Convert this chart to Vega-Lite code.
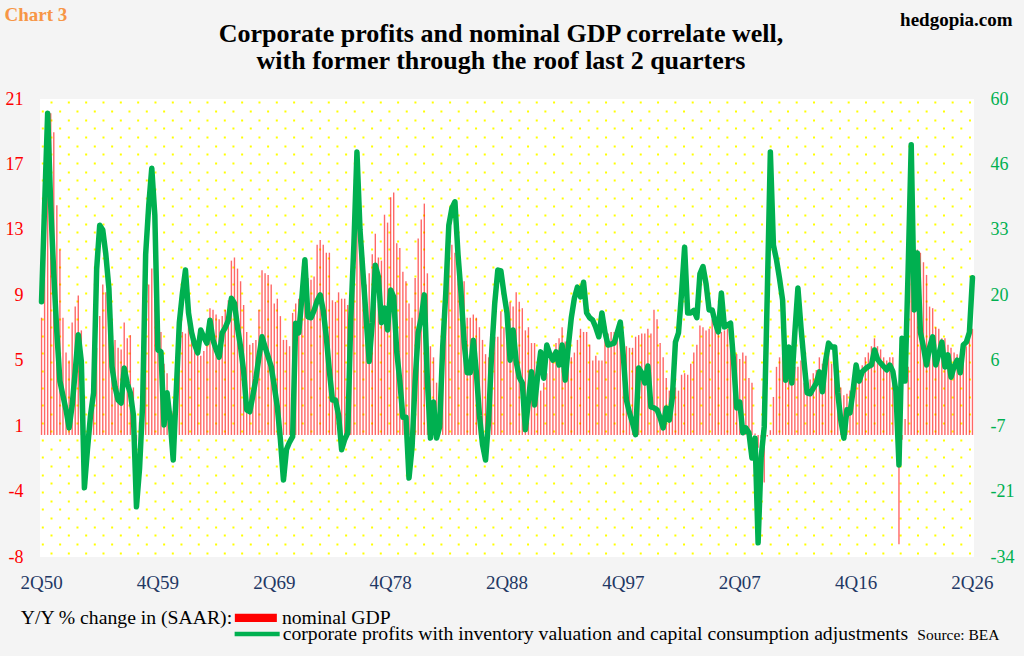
{
  "$schema": "https://vega.github.io/schema/vega-lite/v6.json",
  "width": 934,
  "height": 458,
  "autosize": {"type": "none"},
  "padding": {"left": 40, "top": 99, "right": 50, "bottom": 99},
  "background": "#F4F4F4",
  "title": {
    "text": ["Corporate profits and nominal GDP correlate well,", "with former through the roof last 2 quarters"],
    "font": "Liberation Serif",
    "fontSize": 26,
    "fontWeight": "bold",
    "color": "black",
    "lineHeight": 27,
    "anchor": "middle",
    "dx": -6,
    "offset": -69
  },
  "data": {
    "values": [
      {"q":"2Q50","gdp":7.4,"cp":18.3},{"q":"3Q50","gdp":11.5,"cp":38},{"q":"4Q50","gdp":16,"cp":57},
      {"q":"1Q51","gdp":20.3,"cp":38},{"q":"2Q51","gdp":19.1,"cp":24},{"q":"3Q51","gdp":14.5,"cp":12},{"q":"4Q51","gdp":11.7,"cp":2},
      {"q":"1Q52","gdp":7.4,"cp":-1},{"q":"2Q52","gdp":5.2,"cp":-3.9},{"q":"3Q52","gdp":4.7,"cp":-7.6},{"q":"4Q52","gdp":7.1,"cp":-3},
      {"q":"1Q53","gdp":8.1,"cp":4},{"q":"2Q53","gdp":8.8,"cp":11.5},{"q":"3Q53","gdp":6.6,"cp":6},{"q":"4Q53","gdp":2.5,"cp":-19.9},
      {"q":"1Q54","gdp":-0.6,"cp":-12},{"q":"2Q54","gdp":0.5,"cp":-5},{"q":"3Q54","gdp":3.5,"cp":-0.4},{"q":"4Q54","gdp":5.5,"cp":25},
      {"q":"1Q55","gdp":7.5,"cp":34},{"q":"2Q55","gdp":9.5,"cp":33},{"q":"3Q55","gdp":9,"cp":28},{"q":"4Q55","gdp":8.5,"cp":21},
      {"q":"1Q56","gdp":7,"cp":5},{"q":"2Q56","gdp":6,"cp":0.8},{"q":"3Q56","gdp":5.5,"cp":-1.9},{"q":"4Q56","gdp":5.4,"cp":-2.5},
      {"q":"1Q57","gdp":7.1,"cp":4.7},{"q":"2Q57","gdp":6.1,"cp":1.5},{"q":"3Q57","gdp":6.3,"cp":-0.4},{"q":"4Q57","gdp":3,"cp":-5},
      {"q":"1Q58","gdp":-0.4,"cp":-23.8},{"q":"2Q58","gdp":0.8,"cp":-16},{"q":"3Q58","gdp":3.5,"cp":-3},{"q":"4Q58","gdp":7,"cp":28},
      {"q":"1Q59","gdp":9.5,"cp":38},{"q":"2Q59","gdp":10.5,"cp":45.7},{"q":"3Q59","gdp":8.5,"cp":36},{"q":"4Q59","gdp":7.5,"cp":8.4},
      {"q":"1Q60","gdp":6.5,"cp":8},{"q":"2Q60","gdp":4.5,"cp":-7},{"q":"3Q60","gdp":3.9,"cp":-0.4},{"q":"4Q60","gdp":2,"cp":-6},
      {"q":"1Q61","gdp":1.5,"cp":-14.2},{"q":"2Q61","gdp":3.5,"cp":0},{"q":"3Q61","gdp":5.5,"cp":14},{"q":"4Q61","gdp":6.5,"cp":20},
      {"q":"1Q62","gdp":6.4,"cp":24.8},{"q":"2Q62","gdp":8,"cp":16},{"q":"3Q62","gdp":7,"cp":12},{"q":"4Q62","gdp":6,"cp":9.5},
      {"q":"1Q63","gdp":5.5,"cp":7.8},{"q":"2Q63","gdp":5,"cp":12.5},{"q":"3Q63","gdp":5.3,"cp":11},{"q":"4Q63","gdp":6,"cp":9.8},
      {"q":"1Q64","gdp":8,"cp":14.5},{"q":"2Q64","gdp":7.9,"cp":10.4},{"q":"3Q64","gdp":7.6,"cp":8.5},{"q":"4Q64","gdp":7.3,"cp":6.9},
      {"q":"1Q65","gdp":7.5,"cp":11.9},{"q":"2Q65","gdp":7.9,"cp":13},{"q":"3Q65","gdp":8.5,"cp":14.5},{"q":"4Q65","gdp":11,"cp":19},
      {"q":"1Q66","gdp":11.2,"cp":18},{"q":"2Q66","gdp":10.5,"cp":13},{"q":"3Q66","gdp":9.7,"cp":9},{"q":"4Q66","gdp":8.2,"cp":4},
      {"q":"1Q67","gdp":6.5,"cp":-3.9},{"q":"2Q67","gdp":5.7,"cp":-4.3},{"q":"3Q67","gdp":5.8,"cp":-1},{"q":"4Q67","gdp":6,"cp":2.5},
      {"q":"1Q68","gdp":7.9,"cp":7},{"q":"2Q68","gdp":10.4,"cp":11.1},{"q":"3Q68","gdp":10.2,"cp":9},{"q":"4Q68","gdp":10.1,"cp":7},
      {"q":"1Q69","gdp":9.5,"cp":5},{"q":"2Q69","gdp":8.3,"cp":1},{"q":"3Q69","gdp":8.6,"cp":-3.3},{"q":"4Q69","gdp":7.5,"cp":-10},
      {"q":"1Q70","gdp":6,"cp":-18.3},{"q":"2Q70","gdp":6,"cp":-12},{"q":"3Q70","gdp":5.6,"cp":-10.5},{"q":"4Q70","gdp":7.7,"cp":-9.4},
      {"q":"1Q71","gdp":8.3,"cp":13.9},{"q":"2Q71","gdp":8.6,"cp":11.9},{"q":"3Q71","gdp":9.6,"cp":19},{"q":"4Q71","gdp":9.9,"cp":26.9},
      {"q":"1Q72","gdp":9.9,"cp":15.2},{"q":"2Q72","gdp":9.8,"cp":15},{"q":"3Q72","gdp":10,"cp":16.5},{"q":"4Q72","gdp":12,"cp":18.5},
      {"q":"1Q73","gdp":12.3,"cp":19.7},{"q":"2Q73","gdp":12,"cp":16.5},{"q":"3Q73","gdp":11.5,"cp":11},{"q":"4Q73","gdp":11.5,"cp":4},
      {"q":"1Q74","gdp":8.5,"cp":-1.9},{"q":"2Q74","gdp":8.4,"cp":-1.9},{"q":"3Q74","gdp":9,"cp":-5},{"q":"4Q74","gdp":8.6,"cp":-12.1},
      {"q":"1Q75","gdp":8.6,"cp":-10},{"q":"2Q75","gdp":8.2,"cp":-8.6},{"q":"3Q75","gdp":9.5,"cp":15},{"q":"4Q75","gdp":10,"cp":30},
      {"q":"1Q76","gdp":13,"cp":49},{"q":"2Q76","gdp":12.5,"cp":33},{"q":"3Q76","gdp":9.8,"cp":24},{"q":"4Q76","gdp":9.5,"cp":15},
      {"q":"1Q77","gdp":10.2,"cp":6},{"q":"2Q77","gdp":11.4,"cp":14},{"q":"3Q77","gdp":12.7,"cp":25.8},{"q":"4Q77","gdp":11.2,"cp":23.4},
      {"q":"1Q78","gdp":11,"cp":14},{"q":"2Q78","gdp":13.9,"cp":17},{"q":"3Q78","gdp":13.4,"cp":12.5},{"q":"4Q78","gdp":15,"cp":20.7},
      {"q":"1Q79","gdp":15.3,"cp":19.3},{"q":"2Q79","gdp":12.1,"cp":8},{"q":"3Q79","gdp":11.8,"cp":2},{"q":"4Q79","gdp":10.3,"cp":-5.4},
      {"q":"1Q80","gdp":9.7,"cp":-5.4},{"q":"2Q80","gdp":8.3,"cp":-17.9},{"q":"3Q80","gdp":7.4,"cp":-11.5},{"q":"4Q80","gdp":9.9,"cp":2},
      {"q":"1Q81","gdp":12.4,"cp":12},{"q":"2Q81","gdp":13.6,"cp":15},{"q":"3Q81","gdp":14.6,"cp":19.7},{"q":"4Q81","gdp":10.2,"cp":2.2},
      {"q":"1Q82","gdp":5.6,"cp":-9.7},{"q":"2Q82","gdp":4.9,"cp":-2.3},{"q":"3Q82","gdp":3.3,"cp":-9.7},{"q":"4Q82","gdp":2.5,"cp":-7.4},
      {"q":"1Q83","gdp":6,"cp":9},{"q":"2Q83","gdp":8.5,"cp":20},{"q":"3Q83","gdp":11,"cp":34},{"q":"4Q83","gdp":12,"cp":37.5},
      {"q":"1Q84","gdp":11.5,"cp":38.8},{"q":"2Q84","gdp":10.2,"cp":28},{"q":"3Q84","gdp":10.1,"cp":20},{"q":"4Q84","gdp":9.7,"cp":10},
      {"q":"1Q85","gdp":7.4,"cp":3.7},{"q":"2Q85","gdp":7.4,"cp":3.7},{"q":"3Q85","gdp":7.6,"cp":10.4},{"q":"4Q85","gdp":7.4,"cp":3.7},
      {"q":"1Q86","gdp":6.8,"cp":-5},{"q":"2Q86","gdp":6,"cp":-11},{"q":"3Q86","gdp":5.1,"cp":-14.2},{"q":"4Q86","gdp":4.9,"cp":-6},
      {"q":"1Q87","gdp":6.2,"cp":8},{"q":"2Q87","gdp":6.2,"cp":18},{"q":"3Q87","gdp":6.2,"cp":24.8},{"q":"4Q87","gdp":7.8,"cp":24.6},
      {"q":"1Q88","gdp":6.8,"cp":20},{"q":"2Q88","gdp":8.1,"cp":16},{"q":"3Q88","gdp":8.4,"cp":6.3},{"q":"4Q88","gdp":8.1,"cp":12.5},
      {"q":"1Q89","gdp":9,"cp":6},{"q":"2Q89","gdp":8.4,"cp":2.8},{"q":"3Q89","gdp":8,"cp":1.6},{"q":"4Q89","gdp":6.6,"cp":-8},
      {"q":"1Q90","gdp":6.8,"cp":-2},{"q":"2Q90","gdp":5.8,"cp":3.9},{"q":"3Q90","gdp":5.8,"cp":-2.9},{"q":"4Q90","gdp":2.8,"cp":3},
      {"q":"1Q91","gdp":2.8,"cp":8},{"q":"2Q91","gdp":3.3,"cp":2.6},{"q":"3Q91","gdp":3.9,"cp":9.4},{"q":"4Q91","gdp":5.2,"cp":7.5},
      {"q":"1Q92","gdp":5.2,"cp":6.3},{"q":"2Q92","gdp":5.8,"cp":8},{"q":"3Q92","gdp":6.1,"cp":5.3},{"q":"4Q92","gdp":6.8,"cp":9.4},
      {"q":"1Q93","gdp":5.9,"cp":2.2},{"q":"2Q93","gdp":5.4,"cp":9},{"q":"3Q93","gdp":4.9,"cp":15},{"q":"4Q93","gdp":5.2,"cp":19},
      {"q":"1Q94","gdp":6,"cp":21.3},{"q":"2Q94","gdp":6.7,"cp":19.3},{"q":"3Q94","gdp":6.5,"cp":22.3},{"q":"4Q94","gdp":6.5,"cp":16},
      {"q":"1Q95","gdp":5.7,"cp":15},{"q":"2Q95","gdp":4.7,"cp":14.5},{"q":"3Q95","gdp":5,"cp":13},{"q":"4Q95","gdp":4.7,"cp":11.1},
      {"q":"1Q96","gdp":4.7,"cp":16},{"q":"2Q96","gdp":6.4,"cp":12},{"q":"3Q96","gdp":6.4,"cp":9.4},{"q":"4Q96","gdp":6.5,"cp":9.6},
      {"q":"1Q97","gdp":6.5,"cp":9.8},{"q":"2Q97","gdp":6.3,"cp":12},{"q":"3Q97","gdp":6.2,"cp":14.1},{"q":"4Q97","gdp":6.2,"cp":7},
      {"q":"1Q98","gdp":5.6,"cp":-1.9},{"q":"2Q98","gdp":5.5,"cp":-4.5},{"q":"3Q98","gdp":5.5,"cp":-6.6},{"q":"4Q98","gdp":6.2,"cp":-9},
      {"q":"1Q99","gdp":6.3,"cp":4.7},{"q":"2Q99","gdp":6.4,"cp":3.7},{"q":"3Q99","gdp":6.4,"cp":1.6},{"q":"4Q99","gdp":6.7,"cp":5.1},
      {"q":"1Q00","gdp":6.4,"cp":-3.3},{"q":"2Q00","gdp":7.9,"cp":-3.5},{"q":"3Q00","gdp":7.3,"cp":-3.9},{"q":"4Q00","gdp":5.8,"cp":-5.5},
      {"q":"1Q01","gdp":4.9,"cp":-7.6},{"q":"2Q01","gdp":3.6,"cp":-3.5},{"q":"3Q01","gdp":2.8,"cp":-6},{"q":"4Q01","gdp":2.7,"cp":-1.3},
      {"q":"1Q02","gdp":3,"cp":10},{"q":"2Q02","gdp":2.8,"cp":11.9},{"q":"3Q02","gdp":3.8,"cp":20},{"q":"4Q02","gdp":3.9,"cp":29.5},
      {"q":"1Q03","gdp":3.8,"cp":16},{"q":"2Q03","gdp":4.5,"cp":16},{"q":"3Q03","gdp":5.2,"cp":16.5},{"q":"4Q03","gdp":5.7,"cp":15},
      {"q":"1Q04","gdp":6.9,"cp":24},{"q":"2Q04","gdp":6.8,"cp":25.5},{"q":"3Q04","gdp":6.6,"cp":22},{"q":"4Q04","gdp":6.7,"cp":16.6},
      {"q":"1Q05","gdp":7.3,"cp":16.6},{"q":"2Q05","gdp":7.3,"cp":14},{"q":"3Q05","gdp":6.8,"cp":12.1},{"q":"4Q05","gdp":6.5,"cp":20.1},
      {"q":"1Q06","gdp":6.6,"cp":13.1},{"q":"2Q06","gdp":6.7,"cp":13.5},{"q":"3Q06","gdp":6.5,"cp":13.9},{"q":"4Q06","gdp":4.8,"cp":6},
      {"q":"1Q07","gdp":5.1,"cp":-3.5},{"q":"2Q07","gdp":4.8,"cp":-2.3},{"q":"3Q07","gdp":5.2,"cp":-8.6},{"q":"4Q07","gdp":5,"cp":-7.6},
      {"q":"1Q08","gdp":3.6,"cp":-8.6},{"q":"2Q08","gdp":3.3,"cp":-13.8},{"q":"3Q08","gdp":0.1,"cp":-9.7},{"q":"4Q08","gdp":-0.8,"cp":-31.2},
      {"q":"1Q09","gdp":-0.2,"cp":-13.6},{"q":"2Q09","gdp":-3,"cp":-7.4},{"q":"3Q09","gdp":-0.1,"cp":20},{"q":"4Q09","gdp":0.3,"cp":49},
      {"q":"1Q10","gdp":2.4,"cp":29.9},{"q":"2Q10","gdp":4.3,"cp":26.9},{"q":"3Q10","gdp":4.9,"cp":23},{"q":"4Q10","gdp":5.2,"cp":18.6},
      {"q":"1Q11","gdp":4.9,"cp":2.2},{"q":"2Q11","gdp":4.1,"cp":9},{"q":"3Q11","gdp":3.3,"cp":1.6},{"q":"4Q11","gdp":4.3,"cp":12},
      {"q":"1Q12","gdp":4.3,"cp":21.1},{"q":"2Q12","gdp":4.7,"cp":13},{"q":"3Q12","gdp":3.3,"cp":6},{"q":"4Q12","gdp":3,"cp":-0.4},
      {"q":"1Q13","gdp":3.5,"cp":-0.6},{"q":"2Q13","gdp":3.9,"cp":0.5},{"q":"3Q13","gdp":4.1,"cp":1.6},{"q":"4Q13","gdp":4.9,"cp":3.9},
      {"q":"1Q14","gdp":4.5,"cp":-0.2},{"q":"2Q14","gdp":4.7,"cp":6},{"q":"3Q14","gdp":5.2,"cp":9.8},{"q":"4Q14","gdp":4.5,"cp":9},
      {"q":"1Q15","gdp":3.5,"cp":9},{"q":"2Q15","gdp":3,"cp":-0.4},{"q":"3Q15","gdp":3,"cp":-6},{"q":"4Q15","gdp":2.5,"cp":-9.7},
      {"q":"1Q16","gdp":2.6,"cp":-3.9},{"q":"2Q16","gdp":2.8,"cp":-4.5},{"q":"3Q16","gdp":3.7,"cp":0},{"q":"4Q16","gdp":3.9,"cp":5.3},
      {"q":"1Q17","gdp":4.1,"cp":2},{"q":"2Q17","gdp":4.4,"cp":3.9},{"q":"3Q17","gdp":4.9,"cp":4.5},{"q":"4Q17","gdp":5.2,"cp":5},
      {"q":"1Q18","gdp":5.6,"cp":5.3},{"q":"2Q18","gdp":6.1,"cp":8.4},{"q":"3Q18","gdp":5.6,"cp":6.5},{"q":"4Q18","gdp":5.4,"cp":5.7},
      {"q":"1Q19","gdp":4.9,"cp":5},{"q":"2Q19","gdp":4.7,"cp":4.3},{"q":"3Q19","gdp":4.9,"cp":5.3},{"q":"4Q19","gdp":4.9,"cp":4},
      {"q":"1Q20","gdp":0.8,"cp":0},{"q":"2Q20","gdp":-6.9,"cp":-15.2},{"q":"3Q20","gdp":-0.3,"cp":10.8},{"q":"4Q20","gdp":1,"cp":2},
      {"q":"1Q21","gdp":4.3,"cp":25},{"q":"2Q21","gdp":11.9,"cp":50.5},{"q":"3Q21","gdp":12.7,"cp":16.6},{"q":"4Q21","gdp":11.7,"cp":28.3},
      {"q":"1Q22","gdp":11.5,"cp":12},{"q":"2Q22","gdp":10.9,"cp":9},{"q":"3Q22","gdp":10.1,"cp":5.3},{"q":"4Q22","gdp":8.1,"cp":9},
      {"q":"1Q23","gdp":8,"cp":11.1},{"q":"2Q23","gdp":6.8,"cp":5.3},{"q":"3Q23","gdp":6.7,"cp":7.5},{"q":"4Q23","gdp":6.1,"cp":10},
      {"q":"1Q24","gdp":6.1,"cp":4.9},{"q":"2Q24","gdp":5.7,"cp":7.4},{"q":"3Q24","gdp":5.5,"cp":2.8},{"q":"4Q24","gdp":5.2,"cp":5},
      {"q":"1Q25","gdp":5.1,"cp":6.3},{"q":"2Q25","gdp":4.9,"cp":3.7},{"q":"3Q25","gdp":4.6,"cp":9.4},{"q":"4Q25","gdp":5.6,"cp":10},
      {"q":"1Q26","gdp":6.2,"cp":12},{"q":"2Q26","gdp":6.7,"cp":23.2}
    ]
  },
  "encoding": {
    "x": {
      "field": "q",
      "type": "ordinal",
      "sort": null,
      "scale": {"paddingInner": 0, "paddingOuter": 0},
      "axis": {
        "values": ["2Q50", "4Q59", "2Q69", "4Q78", "2Q88", "4Q97", "2Q07", "4Q16", "2Q26"],
        "labelAngle": 0,
        "labelFont": "Liberation Serif",
        "labelFontSize": 19,
        "labelColor": "#1F3864",
        "labelPadding": 16,
        "labelOverlap": false,
        "ticks": false,
        "tickSize": 0,
        "domain": false,
        "grid": false,
        "title": "Source: BEA",
        "titleX": 959,
        "titleY": 82,
        "titleAlign": "right",
        "titleBaseline": "alphabetic",
        "titleFont": "Liberation Serif",
        "titleFontSize": 15.5,
        "titleFontWeight": "normal",
        "titleColor": "black"
      }
    }
  },
  "layer": [
    {
      "mark": {"type": "bar", "width": 1.4, "opacity": 0.6},
      "encoding": {
        "y": {
          "field": "gdp",
          "type": "quantitative",
          "scale": {"domain": [-7.7, 21.2], "nice": false},
          "axis": {
            "orient": "left",
            "values": [21.2, 17.071, 12.943, 8.814, 4.686, 0.557, -3.571, -7.7,
              20.99, 19.897, 18.804, 17.712, 16.619, 15.526, 14.433, 13.34, 12.248, 11.155, 10.062, 8.969, 7.876, 6.784,
              5.691, 4.598, 3.505, 2.412, 1.32, 0.227, -0.866, -1.959, -3.052, -4.144, -5.237, -6.33, -7.423],
            "labelExpr": "indexof([21.2,17.071,12.943,8.814,4.686,0.557,-3.571,-7.7], datum.value) >= 0 ? '' + round(datum.value) : ''",
            "labelFont": "Liberation Serif",
            "labelFontSize": 18,
            "labelColor": "#FF0000",
            "labelPadding": 17,
            "labelOverlap": false,
            "labelBound": false,
            "labelFlush": false,
            "ticks": false,
            "tickSize": 0,
            "domain": false,
            "grid": true,
            "gridColor": "#FFFF00",
            "gridWidth": 2,
            "gridDash": [2, 15.33],
            "gridDashOffset": 7.33,
            "gridOpacity": {"condition": {"test": "indexof([21.2,17.071,12.943,8.814,4.686,0.557,-3.571,-7.7], datum.value) >= 0", "value": 0}, "value": 1},
            "title": "Chart 3",
            "titleAngle": 0,
            "titleX": -36,
            "titleY": -79,
            "titleAlign": "left",
            "titleBaseline": "alphabetic",
            "titleFont": "Liberation Serif",
            "titleFontSize": 19,
            "titleFontWeight": "bold",
            "titleColor": "#F79646"
          }
        },
        "y2": {"datum": 0},
        "fill": {
          "datum": "nominal GDP",
          "scale": {"range": ["#FF0000"]},
          "legend": {
            "title": "Y/Y % change in (SAAR):",
            "orient": "none",
            "legendX": -19.3,
            "legendY": 509,
            "titleOrient": "left",
            "titleFont": "Liberation Serif",
            "titleFontSize": 19.7,
            "titleFontWeight": "normal",
            "titleColor": "black",
            "titlePadding": 12.3,
            "titleLimit": 400,
            "labelFont": "Liberation Serif",
            "labelFontSize": 19.7,
            "labelColor": "black",
            "labelLimit": 900,
            "labelOffset": 16.2,
            "symbolType": "M-5,-1H5V1H-5Z",
            "symbolSize": 70.6,
            "symbolOpacity": 1,
            "symbolStrokeWidth": 0,
            "symbolFillColor": "#FF0000",
            "padding": 0
          }
        }
      }
    },
    {
      "mark": {"type": "line", "strokeWidth": 5.5, "strokeJoin": "round", "strokeCap": "round"},
      "encoding": {
        "y": {
          "field": "cp",
          "type": "quantitative",
          "scale": {"domain": [-34.1, 59.9], "nice": false},
          "axis": {
            "orient": "right",
            "values": [59.9, 46.471, 33.043, 19.614, 6.186, -7.243, -20.671, -34.1,
              57.453, 53.898, 50.343, 46.788, 43.233, 39.678, 36.123, 32.568, 29.013, 25.458, 21.903, 18.348, 14.793,
              11.238, 7.683, 4.128, 0.573, -2.983, -6.538, -10.093, -13.648, -17.203, -20.758, -24.313, -27.868, -31.423],
            "labelExpr": "indexof([59.9,46.471,33.043,19.614,6.186,-7.243,-20.671,-34.1], datum.value) >= 0 ? '' + round(datum.value) : ''",
            "labelFont": "Liberation Serif",
            "labelFontSize": 18,
            "labelColor": "#00B050",
            "labelPadding": 16,
            "labelOverlap": false,
            "labelBound": false,
            "labelFlush": false,
            "ticks": false,
            "tickSize": 0,
            "domain": false,
            "grid": true,
            "gridColor": "#FFFF00",
            "gridWidth": 2,
            "gridDash": [2, 15.33],
            "gridDashOffset": 5.13,
            "gridOpacity": {"condition": {"test": "indexof([59.9,46.471,33.043,19.614,6.186,-7.243,-20.671,-34.1], datum.value) >= 0", "value": 0}, "value": 1},
            "title": "hedgopia.com",
            "titleAngle": 0,
            "titleX": 38,
            "titleY": -74,
            "titleAlign": "right",
            "titleBaseline": "alphabetic",
            "titleFont": "Liberation Serif",
            "titleFontSize": 19,
            "titleFontWeight": "bold",
            "titleColor": "black"
          }
        },
        "stroke": {
          "datum": "corporate profits with inventory valuation and capital consumption adjustments",
          "scale": {"range": ["#00B050"]},
          "legend": {
            "title": null,
            "orient": "none",
            "legendX": 207.3,
            "legendY": 525.2,
            "labelFont": "Liberation Serif",
            "labelFontSize": 19.7,
            "labelColor": "black",
            "labelLimit": 900,
            "labelOffset": 15.7,
            "symbolType": "M-5.36,0H5.36",
            "symbolSize": 70.6,
            "symbolStrokeWidth": 4.5,
            "symbolStrokeColor": "#00B050",
            "symbolOpacity": 1,
            "padding": 0
          }
        }
      }
    }
  ],
  "resolve": {"scale": {"y": "independent"}},
  "config": {
    "font": "Liberation Serif",
    "view": {"fill": "white", "stroke": null}
  }
}
